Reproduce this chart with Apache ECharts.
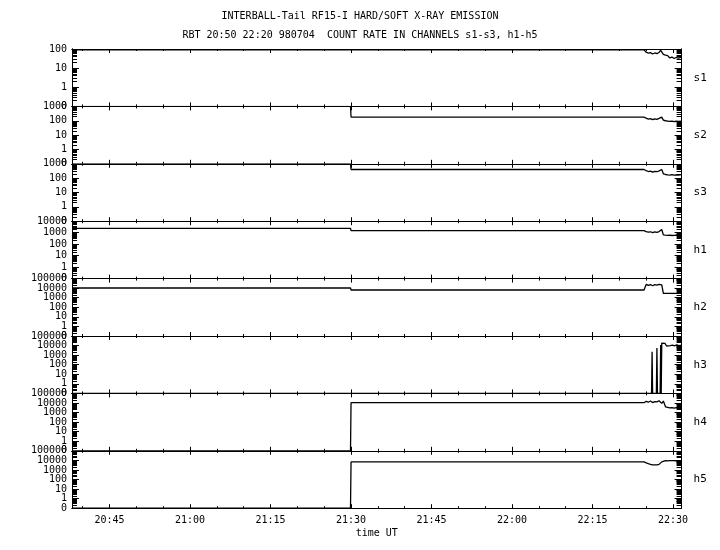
<!DOCTYPE html>
<html><head><meta charset="utf-8">
<script src="https://cdn.jsdelivr.net/npm/echarts@6/dist/echarts.min.js"></script>
<style>html,body{margin:0;padding:0;background:#fff}#c{width:720px;height:550px}</style>
</head><body><div id="c"></div>
<script>
// time in minutes of day (UT)
const times = [1238, 1289.9, 1290, 1344.6, 1345.0, 1345.4, 1345.8, 1346.2, 1346.6, 1347.0, 1347.4, 1347.7, 1347.9, 1348.2, 1348.6, 1349.0, 1349.4, 1349.8, 1350.2, 1350.6, 1351.0, 1351.6];
const s1 = [90, 90, 90, 90, 68, 60, 65, 55, 62, 57, 66, 85, 90, 52, 48, 45, 34, 38, 32, 36, 33, 38];
const s2 = [1000, 1000, 180, 180, 150, 130, 140, 120, 135, 125, 145, 170, 180, 110, 100, 95, 90, 95, 88, 92, 90, 95];
const s3 = [1000, 1000, 400, 400, 330, 290, 310, 260, 300, 280, 320, 380, 400, 200, 180, 170, 165, 175, 160, 170, 165, 175];
const h1 = [2400, 2400, 1500, 1500, 1250, 1100, 1200, 1000, 1150, 1050, 1250, 1700, 1900, 650, 600, 580, 600, 570, 590, 600, 580, 600];
const h2 = [10400, 10400, 6400, 6400, 25000, 20000, 24000, 18000, 23000, 21000, 25000, 19000, 22000, 2900, 2800, 2900, 2800, 2900, 2850, 2900, 2800, 2900];
const h4 = [0, 0, 10700, 10700, 15000, 12000, 16000, 11000, 14000, 13000, 17000, 12000, 9000, 16000, 4000, 3500, 3000, 3300, 2900, 3200, 3000, 3200];
const h5 = [0, 0, 6800, 6800, 5500, 4500, 3800, 3400, 3300, 3300, 3800, 5000, 7000, 9000, 9300, 9000, 9500, 9200, 9300, 9000, 9400, 9200];
const h3Times = [1238, 1346.0, 1346.1, 1346.2, 1346.9, 1347.0, 1347.1, 1347.6, 1347.7, 1347.8, 1347.9, 1348.2, 1348.5, 1348.8, 1349.1, 1349.5, 1349.9, 1350.3, 1350.7, 1351.1, 1351.6];
const h3 = [0, 0, 2300, 0, 0, 5600, 0, 0, 11500, 0, 18000, 15000, 17000, 9000, 12000, 10000, 11000, 9500, 12000, 10000, 11000];

const panelNames = ['s1', 's2', 's3', 'h1', 'h2', 'h3', 'h4', 'h5'];
const panelMax = [100, 1000, 1000, 10000, 100000, 100000, 100000, 100000];
const xLabelTicks = [1245, 1260, 1275, 1290, 1305, 1320, 1335, 1350];
const titleLine1 = 'INTERBALL-Tail RF15-I HARD/SOFT X-RAY EMISSION';
const titleLine2 = 'RBT 20:50 22:20 980704  COUNT RATE IN CHANNELS s1-s3, h1-h5';
const xName = 'time UT';
const xMin = 1238, xMax = 1351.6;

const panelData = [
  [times, s1], [times, s2], [times, s3], [times, h1], [times, h2], [h3Times, h3], [times, h4], [times, h5]
];

const FONT = 'DejaVu Sans Mono';
const BLACK = '#000';
const xMinorTicks = [];
for (let m = 1240; m <= 1350; m += 5) xMinorTicks.push(m);

function decades(max) { const a = []; for (let v = 0.1; v <= max * 1.0001; v *= 10) a.push(+v.toPrecision(3)); return a; }
function minors(max) { const a = []; decades(max).forEach(d => { if (d < max) for (let k = 2; k <= 9; k++) a.push(+(d * k).toPrecision(3)); }); return a; }
function fmtTime(m) { const h = Math.floor(m / 60), mm = Math.round(m - h * 60); return h + ':' + (mm < 10 ? '0' : '') + mm; }
const yFmt = v => (v < 0.5 ? '0' : String(Math.round(v)));

const top0 = 49, ph = 57.4, left = 72, right = 720 - 681.6;
const grid = [], xAxis = [], yAxis = [], series = [];
for (let i = 0; i < 8; i++) {
  grid.push({ left: left, right: right, top: top0 + i * ph, height: ph, containLabel: false });
  const isLast = i === 7;
  const baseX = { type: 'value', gridIndex: i, min: xMin, max: xMax, splitLine: { show: false },
    axisLine: { show: true, lineStyle: { color: BLACK, width: 1 } } };
  const xi = xAxis.length;
  xAxis.push(Object.assign({}, baseX, { position: 'bottom',
    axisTick: { show: true, inside: true, length: 4, customValues: xLabelTicks, lineStyle: { color: BLACK } },
    axisLabel: { show: isLast, customValues: xLabelTicks, formatter: v => fmtTime(v), color: BLACK, fontFamily: FONT, fontSize: 10, margin: 7 },
    name: isLast ? xName : '', nameLocation: 'middle', nameGap: 20, nameTextStyle: { color: BLACK, fontFamily: FONT, fontSize: 10 } }));
  xAxis.push(Object.assign({}, baseX, { position: 'bottom',
    axisTick: { show: true, inside: true, length: 2, customValues: xMinorTicks, lineStyle: { color: BLACK } },
    axisLabel: { show: false } }));
  xAxis.push(Object.assign({}, baseX, { position: 'top',
    axisTick: { show: true, inside: true, length: 4, customValues: xLabelTicks, lineStyle: { color: BLACK } },
    axisLabel: { show: false } }));
  xAxis.push(Object.assign({}, baseX, { position: 'top',
    axisTick: { show: true, inside: true, length: 2, customValues: xMinorTicks, lineStyle: { color: BLACK } },
    axisLabel: { show: false } }));

  const max = panelMax[i];
  const dec = decades(max), mins = minors(max);
  const decEven = dec.filter((d, k) => k % 2 === 0), decOdd = dec.filter((d, k) => k % 2 === 1);
  const baseY = { type: 'log', logBase: 10, gridIndex: i, min: 0.1, max: max, splitLine: { show: false },
    axisLine: { show: true, lineStyle: { color: BLACK, width: 1 } } };
  const lblStyle = { show: true, interval: 0, showMinLabel: true, showMaxLabel: true, hideOverlap: false,
    formatter: yFmt, color: BLACK, fontFamily: FONT, fontSize: 10, margin: 5 };
  const yi = yAxis.length;
  yAxis.push(Object.assign({}, baseY, { position: 'left',
    axisTick: { show: true, inside: true, length: 7, customValues: dec, lineStyle: { color: BLACK } },
    axisLabel: Object.assign({}, lblStyle, { customValues: decEven }) }));
  yAxis.push(Object.assign({}, baseY, { position: 'left',
    axisTick: { show: true, inside: true, length: 5, customValues: mins, lineStyle: { color: BLACK } },
    axisLabel: Object.assign({}, lblStyle, { customValues: decOdd }) }));
  yAxis.push(Object.assign({}, baseY, { position: 'right',
    axisTick: { show: true, inside: true, length: 7, customValues: dec, lineStyle: { color: BLACK } },
    axisLabel: { show: false },
    name: panelNames[i], nameLocation: 'middle', nameRotate: 0, nameGap: 12,
    nameTextStyle: { color: BLACK, fontFamily: FONT, fontSize: 11, align: 'left' } }));
  yAxis.push(Object.assign({}, baseY, { position: 'right',
    axisTick: { show: true, inside: true, length: 5, customValues: mins, lineStyle: { color: BLACK } },
    axisLabel: { show: false } }));

  const [tt, vv] = panelData[i];
  series.push({ type: 'line', xAxisIndex: xi, yAxisIndex: yi, showSymbol: false, symbol: 'none',
    clip: true, lineStyle: { color: BLACK, width: 1.3 }, itemStyle: { color: BLACK },
    data: tt.map((t, k) => [t, vv[k] > 0 ? vv[k] : 0.1]) });
}

const chart = echarts.init(document.getElementById('c'), null, { renderer: 'canvas' });
chart.setOption({
  backgroundColor: '#fff',
  animation: false,
  title: [
    { text: titleLine1, left: 'center', top: 6, textStyle: { color: BLACK, fontFamily: FONT, fontSize: 10, fontWeight: 'normal' } },
    { text: titleLine2, left: 'center', top: 25, textStyle: { color: BLACK, fontFamily: FONT, fontSize: 10, fontWeight: 'normal' } }
  ],
  grid, xAxis, yAxis, series
});
</script>
</body></html>
